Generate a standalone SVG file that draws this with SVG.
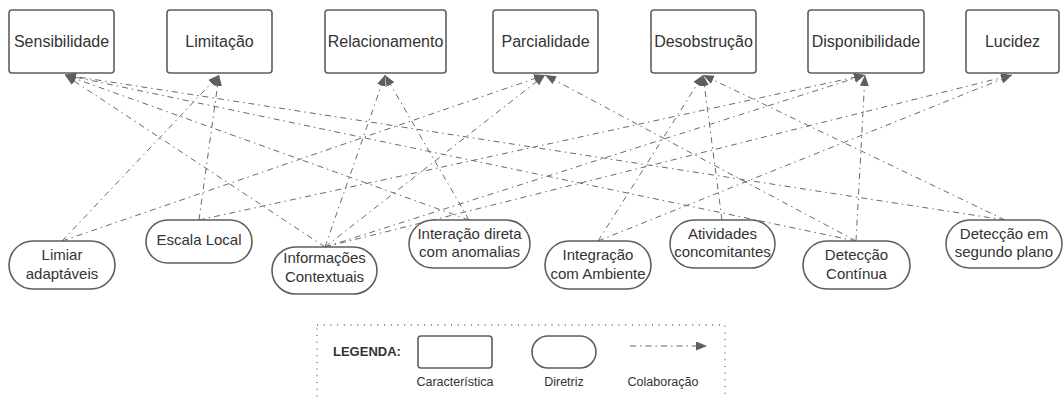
<svg xmlns="http://www.w3.org/2000/svg" width="1063" height="398" viewBox="0 0 1063 398">
<style>
.box{fill:#fff;stroke:#5e5e5e;stroke-width:1.6}
.t{font-family:"Liberation Sans",Arial,sans-serif;font-size:16px;fill:#333;text-anchor:middle}
.s{font-family:"Liberation Sans",Arial,sans-serif;font-size:15px;fill:#333;text-anchor:middle}
.c{fill:none;stroke:#6a6a6a;stroke-width:1;stroke-dasharray:6 4 1.5 4}
.lg{font-family:"Liberation Sans",Arial,sans-serif;font-size:12.5px;fill:#333;text-anchor:middle}
</style>
<defs>
<marker id="ah" markerUnits="userSpaceOnUse" markerWidth="12" markerHeight="10" refX="11" refY="4.5" orient="auto">
<path d="M0,0 L11,4.5 L0,9 z" fill="#5e5e5e"/>
</marker>
</defs>
<rect width="1063" height="398" fill="#fff"/>
<g id="connectors">
<line class="c" x1="62" y1="241" x2="219" y2="75" marker-end="url(#ah)"/>
<line class="c" x1="62" y1="241" x2="545" y2="75" marker-end="url(#ah)"/>
<line class="c" x1="199" y1="220" x2="219" y2="75" marker-end="url(#ah)"/>
<line class="c" x1="199" y1="220" x2="865" y2="75" marker-end="url(#ah)"/>
<line class="c" x1="325" y1="247" x2="65" y2="75" marker-end="url(#ah)"/>
<line class="c" x1="325" y1="247" x2="385" y2="75" marker-end="url(#ah)"/>
<line class="c" x1="325" y1="247" x2="545" y2="75" marker-end="url(#ah)"/>
<line class="c" x1="325" y1="247" x2="1012" y2="75" marker-end="url(#ah)"/>
<line class="c" x1="325" y1="247" x2="865" y2="75" marker-end="url(#ah)"/>
<line class="c" x1="469" y1="220" x2="65" y2="75" marker-end="url(#ah)"/>
<line class="c" x1="469" y1="220" x2="385" y2="75" marker-end="url(#ah)"/>
<line class="c" x1="598" y1="241" x2="703" y2="75" marker-end="url(#ah)"/>
<line class="c" x1="598" y1="241" x2="1012" y2="75" marker-end="url(#ah)"/>
<line class="c" x1="722" y1="220" x2="703" y2="75" marker-end="url(#ah)"/>
<line class="c" x1="856" y1="241" x2="65" y2="75" marker-end="url(#ah)"/>
<line class="c" x1="856" y1="241" x2="545" y2="75" marker-end="url(#ah)"/>
<line class="c" x1="856" y1="241" x2="865" y2="75" marker-end="url(#ah)"/>
<line class="c" x1="1005" y1="220" x2="65" y2="75" marker-end="url(#ah)"/>
<line class="c" x1="1005" y1="220" x2="703" y2="75" marker-end="url(#ah)"/>
</g>
<g id="sensibilidade"><rect class="box" x="9" y="10" width="105" height="63" rx="3"/><text class="t" x="61.5" y="47">Sensibilidade</text></g>
<g id="limitacao"><rect class="box" x="167" y="10" width="105" height="63" rx="3"/><text class="t" x="219.5" y="47">Limitação</text></g>
<g id="relacionamento"><rect class="box" x="325" y="10" width="121" height="63" rx="3"/><text class="t" x="385.5" y="47">Relacionamento</text></g>
<g id="parcialidade"><rect class="box" x="493" y="10" width="105" height="63" rx="3"/><text class="t" x="545.5" y="47">Parcialidade</text></g>
<g id="desobstrucao"><rect class="box" x="651" y="10" width="105" height="63" rx="3"/><text class="t" x="703.5" y="47">Desobstrução</text></g>
<g id="disponibilidade"><rect class="box" x="808" y="10" width="116" height="63" rx="3"/><text class="t" x="866" y="47">Disponibilidade</text></g>
<g id="lucidez"><rect class="box" x="966" y="10" width="93" height="63" rx="3"/><text class="t" x="1012.5" y="47">Lucidez</text></g>

<g id="limiar"><rect class="box" x="9" y="241" width="106" height="48" rx="24"/><text class="s" x="62" y="259.5">Limiar</text><text class="s" x="62" y="278.5">adaptáveis</text></g>
<g id="escala-local"><rect class="box" x="146" y="220" width="106" height="43" rx="21.5"/><text class="s" x="199" y="244.5">Escala Local</text></g>
<g id="informacoes"><rect class="box" x="272" y="247" width="105" height="47" rx="23.5"/><text class="s" x="324.5" y="262.5">Informações</text><text class="s" x="324.5" y="281.5">Contextuais</text></g>
<g id="interacao"><rect class="box" x="409" y="220" width="121" height="48" rx="24"/><text class="s" x="469.5" y="238.5">Interação direta</text><text class="s" x="469.5" y="257">com anomalias</text></g>
<g id="integracao"><rect class="box" x="545" y="241" width="106" height="48" rx="24"/><text class="s" x="598" y="259.5">Integração</text><text class="s" x="598" y="278.5">com Ambiente</text></g>
<g id="atividades"><rect class="box" x="670" y="220" width="105" height="48" rx="24"/><text class="s" x="722.5" y="238.5">Atividades</text><text class="s" x="722.5" y="257">concomitantes</text></g>
<g id="deteccao-continua"><rect class="box" x="803" y="241" width="107" height="48" rx="24"/><text class="s" x="856.5" y="259.5">Detecção</text><text class="s" x="856.5" y="278.5">Contínua</text></g>
<g id="deteccao-segundo-plano"><rect class="box" x="946" y="220" width="116" height="48" rx="24"/><text class="s" x="1004" y="238.5">Detecção em</text><text class="s" x="1004" y="257">segundo plano</text></g>

<g id="legenda">
<rect x="317" y="325" width="408" height="90" fill="none" stroke="#666" stroke-width="1.3" stroke-dasharray="1 5.7"/>
<text x="333" y="356" font-family="'Liberation Sans',Arial,sans-serif" font-size="13" font-weight="bold" fill="#333">LEGENDA:</text>
<rect class="box" x="418" y="336" width="74" height="32" rx="3"/>
<rect class="box" x="532" y="336" width="64" height="32" rx="16"/>
<line class="c" x1="630" y1="346" x2="707" y2="346" marker-end="url(#ah)"/>
<text class="lg" x="455" y="386">Característica</text>
<text class="lg" x="564" y="386">Diretriz</text>
<text class="lg" x="663" y="386">Colaboração</text>
</g>
</svg>
